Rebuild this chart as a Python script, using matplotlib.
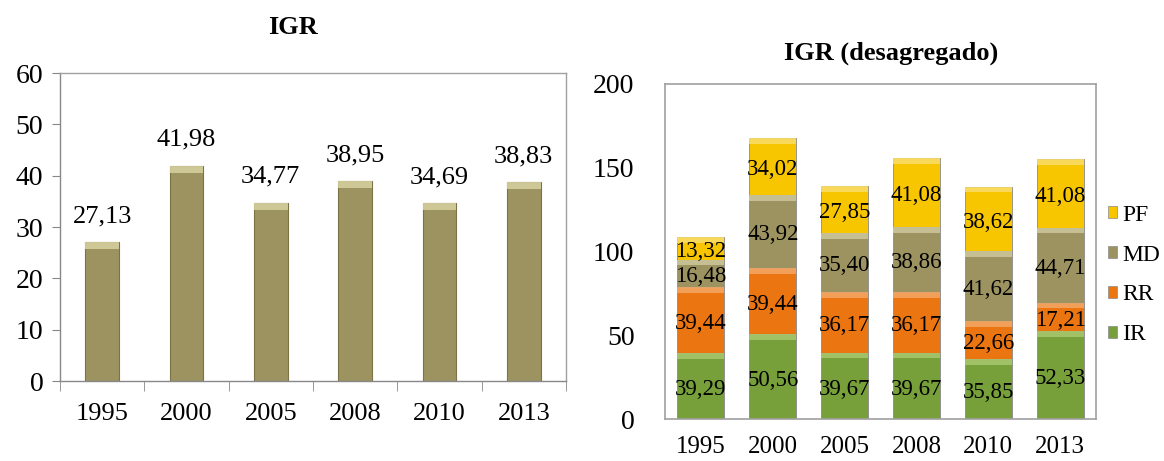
import matplotlib
matplotlib.use("Agg")
import matplotlib.pyplot as plt
import numpy as np
from matplotlib.patches import Patch

plt.rcParams['font.family'] = ['Liberation Serif', 'DejaVu Serif']

years = ["1995", "2000", "2005", "2008", "2010", "2013"]
igr = [27.13, 41.98, 34.77, 38.95, 34.69, 38.83]

ir = [39.29, 50.56, 39.67, 39.67, 35.85, 52.33]
rr = [39.44, 39.44, 36.17, 36.17, 22.66, 17.21]
md = [16.48, 43.92, 35.40, 38.86, 41.62, 44.71]
pf = [13.32, 34.02, 27.85, 41.08, 38.62, 41.08]

series_names = ["IR", "RR", "MD", "PF"]
series_vals = [ir, rr, md, pf]
colors = ["#77A03A", "#EA7511", "#9C9361", "#F7C600"]
light = ["#A9C86E", "#F4A867", "#CEC89C", "#FADD6A"]
olive = "#9C9361"
olive_light = "#D4CE9C"


def fmt(v):
    return f"{v:.2f}".replace(".", ",")


fig = plt.figure(figsize=(11.64, 4.61), dpi=100)

# ---- Left chart ----
ax1 = fig.add_axes([0.0515, 0.1735, 0.4347, 0.668])
x = np.arange(len(years))
w1 = 0.40
ax1.bar(x, igr, width=w1, color=olive, edgecolor="#7A7345", linewidth=0.8, zorder=2)
hl = 1.4
ax1.bar(x, [hl] * len(x), bottom=np.array(igr) - hl, width=w1, color=olive_light,
        edgecolor="none", zorder=3, alpha=0.9)
for xi, v in zip(x, igr):
    ax1.text(xi, v + 5.0, fmt(v), ha="center", va="center", fontsize=19)
ax1.set_xlim(-0.5, len(years) - 0.5)
ax1.set_ylim(0, 60)
ax1.set_yticks(range(0, 61, 10))
ax1.set_xticks(x)
ax1.set_xticklabels(years)
ax1.set_xticks(np.arange(-0.5, len(years), 1), minor=True)
ax1.tick_params(axis="x", which="major", length=0, labelsize=19, pad=16)
ax1.tick_params(axis="x", which="minor", length=7, color="#888888", direction="out")
ax1.tick_params(axis="y", length=6, color="#888888", labelsize=20, pad=6)
for s in ax1.spines.values():
    s.set_color("#A0A0A0")
    s.set_linewidth(1.0)
ax1.spines["left"].set_color("#888888")
ax1.spines["bottom"].set_color("#888888")
fig.text(0.2515, 0.94, "IGR", ha="center", va="center", fontsize=19, fontweight="bold")

# ---- Right chart ----
ax2 = fig.add_axes([0.5713, 0.0911, 0.3703, 0.7267])
w2 = 0.655
bottom = np.zeros(len(years))
hl2 = 3.5
for name, vals, c, lc in zip(series_names, series_vals, colors, light):
    vals = np.array(vals)
    ax2.bar(x, vals, bottom=bottom, width=w2, color=c, edgecolor="#8A8A8A",
            linewidth=0.6, zorder=2, label=name)
    ax2.bar(x, [hl2] * len(x), bottom=bottom + vals - hl2, width=w2, color=lc,
            edgecolor="none", zorder=3, alpha=0.85)
    for xi, b, v in zip(x, bottom, vals):
        ax2.text(xi, b + v / 2 - 2, fmt(v), ha="center", va="center", fontsize=16.5, zorder=4)
    bottom = bottom + vals
ax2.set_xlim(-0.5, len(years) - 0.5)
ax2.set_ylim(0, 200)
ax2.set_yticks(range(0, 201, 50))
ax2.set_xticks(x)
ax2.set_xticklabels(years)
ax2.tick_params(axis="x", length=0, labelsize=18, pad=12)
ax2.tick_params(axis="y", length=0, labelsize=20, pad=22)
for s in ax2.spines.values():
    s.set_color("#A0A0A0")
    s.set_linewidth(1.2)
fig.text(0.7655, 0.885, "IGR (desagregado)", ha="center", va="center", fontsize=19, fontweight="bold")

handles = [Patch(facecolor=c, edgecolor="#8A8A8A", linewidth=0.5) for c in colors]
leg = fig.legend(handles[::-1], series_names[::-1], loc="center left",
                 bbox_to_anchor=(1108 / 1164, 1 - 275 / 461), frameon=False, fontsize=17,
                 handlelength=0.4, handleheight=0.4, handletextpad=0.2,
                 labelspacing=0.8, borderpad=0, borderaxespad=0)

fig.savefig("out.png", dpi=100)
